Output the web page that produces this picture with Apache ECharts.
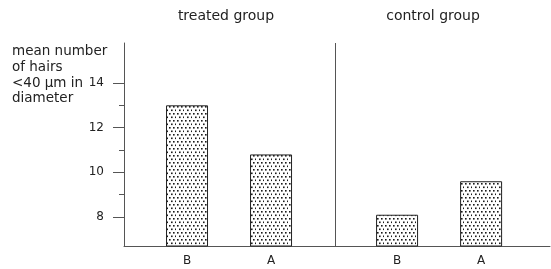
<!DOCTYPE html>
<html>
<head>
<meta charset="utf-8">
<script src="https://cdn.jsdelivr.net/npm/echarts@6/dist/echarts.min.js"></script>
<style>
html, body { margin: 0; background: #fff; }
#main { width: 551px; height: 269px; }
</style>
</head>
<body>
<div id="main"></div>
<script>
var groups = ['treated group', 'control group'];
var barNames = ['B', 'A'];
var treatedValues = [13.0, 10.8];
var controlValues = [8.1, 9.6];
var majorTicks = [8, 10, 12, 14];
var minorTicks = [9, 11, 13];
var yTitle = 'mean number\nof hairs\n<40 \u00b5m in\ndiameter';

var groupValues = [treatedValues, controlValues];
var font = 'DejaVu Sans';
var lineColor = '#555';

// stipple fill for the bars
function dots() {
	var c = document.createElement('canvas');
	c.width = 8;
	c.height = 7;
	var g = c.getContext('2d');
	g.fillStyle = '#fff';
	g.fillRect(0, 0, 8, 7);
	g.fillStyle = '#1a1a1a';
	[[1, 1], [5, 1], [3, 4.5], [7, 4.5]].forEach(function (p) {
		g.fillRect(p[0], p[1], 1.6, 1.6);
	});
	return c;
}

// each group takes 5 slots on the x axis, bars sit in slot 1 and 3
var barData = [];
var labelAt = {};
for (var g = 0; g < groups.length; g++) {
	for (var j = 0; j < barNames.length; j++) {
		var x = g * 5 + 1.5 + 2 * j;
		barData.push([x, groupValues[g][j]]);
		labelAt[x] = barNames[j];
	}
}
var labelValues = barData.map(function (d) { return d[0]; });

var chart = echarts.init(document.getElementById('main'));
chart.setOption({
	animation: false,
	backgroundColor: '#fff',
	title: {
		text: yTitle,
		left: 12,
		top: 44,
		padding: 0,
		textStyle: { fontFamily: font, fontSize: 13.5, fontWeight: 'normal', color: '#222', lineHeight: 15.6 }
	},
	graphic: [
		{ type: 'text', x: 226, y: 16, style: { text: groups[0], font: '14px "DejaVu Sans"', fill: '#222', align: 'center', verticalAlign: 'middle' } },
		{ type: 'text', x: 433, y: 16, style: { text: groups[1], font: '14px "DejaVu Sans"', fill: '#222', align: 'center', verticalAlign: 'middle' } }
	],
	grid: { left: 124, right: 1, top: 43, bottom: 23 },
	xAxis: {
		type: 'value',
		min: 0,
		max: 10.14,
		axisLine: { show: true, lineStyle: { color: lineColor, width: 1 } },
		axisTick: { show: false },
		splitLine: { show: false },
		axisLabel: {
			customValues: labelValues,
			formatter: function (v) { return labelAt[v] || ''; },
			margin: 9,
			fontFamily: font,
			fontSize: 12,
			color: '#222'
		}
	},
	yAxis: [
		{
			type: 'value',
			position: 'left',
			min: 6.7,
			max: 15.79,
			axisLine: { show: true, lineStyle: { color: lineColor, width: 1 } },
			axisTick: { show: true, customValues: majorTicks, length: 11, lineStyle: { color: lineColor } },
			axisLabel: { customValues: majorTicks, margin: 20, fontFamily: font, fontSize: 12, color: '#222' },
			splitLine: { show: false }
		},
		{
			type: 'value',
			position: 'left',
			offset: 0,
			min: 6.7,
			max: 15.79,
			axisLine: { show: false },
			axisTick: { show: true, customValues: minorTicks, length: 5, lineStyle: { color: lineColor } },
			axisLabel: { show: false },
			splitLine: { show: false }
		}
	],
	series: [{
		type: 'bar',
		data: barData,
		barWidth: 42,
		itemStyle: {
			color: { image: dots(), repeat: 'repeat' },
			borderColor: '#222',
			borderWidth: 1
		},
		markLine: {
			silent: true,
			symbol: 'none',
			label: { show: false },
			lineStyle: { color: lineColor, type: 'solid', width: 1 },
			data: [{ xAxis: 5.02 }]
		}
	}]
});
</script>
</body>
</html>
